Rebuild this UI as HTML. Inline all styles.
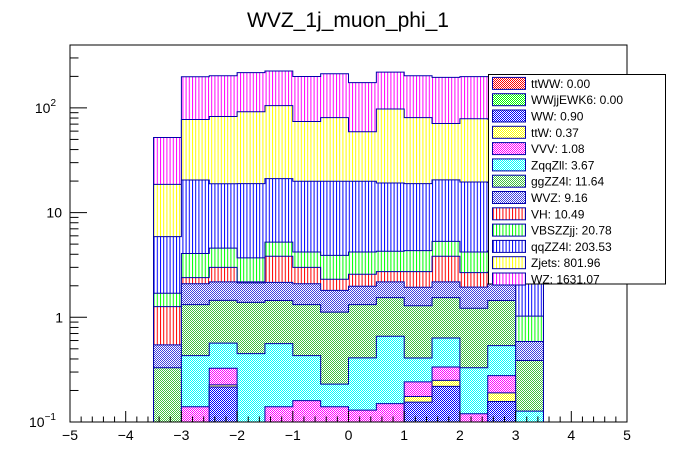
<!DOCTYPE html>
<html><head><meta charset="utf-8"><style>
html,body{margin:0;padding:0;background:#fff;}
svg{display:block;font-family:"Liberation Sans",Arial,sans-serif;}
</style></head><body>
<svg id="chart" width="696" height="472" viewBox="0 0 696 472" xmlns="http://www.w3.org/2000/svg">
<defs>
<clipPath id="frameClip"><rect x="70" y="45" width="557" height="377"/></clipPath>
</defs>
<text x="348" y="27" text-anchor="middle" font-size="21">WVZ_1j_muon_phi_1</text>
<g id="plot" clip-path="url(#frameClip)"></g>
<rect x="70" y="45" width="557" height="377" fill="none" stroke="#000" stroke-width="1"/>
<g id="axes"></g>
<g id="legend"></g>
</svg>
<script>
const binEdgesLo = -3.5, binWidth = 0.5;
const seriesNames = ["ttWW","WWjjEWK6","WW","ttW","VVV","ZqqZll","ggZZ4l","WVZ","VH","VBSZZjj","qqZZ4l","Zjets","WZ"];
const legendValues = ["0.00","0.00","0.90","0.37","1.08","3.67","11.64","9.16","10.49","20.78","203.53","801.96","1631.07"];
const ttWW   = [0,0,0,0,0,0,0,0,0,0,0,0,0,0];
const WWjj   = [0,0,0,0,0,0,0,0,0,0,0,0,0,0];
const WW     = [.02,.03,.216,.02,.04,.05,.04,.04,.04,.155,.219,.04,.157,.02];
const ttW    = [.01,.02,.01,.01,.02,.02,.02,.02,.02,.02,.031,.02,.033,.02];
const VVV    = [.03,.09,.10,.02,.08,.09,.08,.07,.09,.067,.085,.06,.087,.03];
const ZqqZll = [.03,.29,.24,.40,.42,.27,.09,.28,.51,.167,.30,.21,.26,.057];
const ggZZ4l = [.24,.89,.885,.94,.885,.89,.89,.91,.88,.88,.905,.89,.91,.26];
const WVZ    = [.216,.77,.73,.74,.71,.77,.69,.66,.64,.65,.64,.72,.64,.20];
const VH     = [.72,.30,.82,.05,1.67,.91,.50,.60,.55,.79,1.65,.73,.61,0];
const VBSZZjj= [.43,1.68,1.58,1.51,1.40,1.21,1.59,1.63,1.55,1.60,1.48,1.54,1.6,.44];
const qqZZ4l = [4.2,16.4,14.3,15.2,15.9,15.7,16,15.7,14.9,14.6,15.2,15.4,15.1,4.9];
const Zjets  = [12.7,57.1,63.9,73.1,84,54.3,60.9,39.2,78.4,61.9,50.4,59.1,58.6,12.7];
const WZ     = [33.5,121,120,125,120,125,131,115,122,122,125,120,121,33.5];
const xTicks = [-5,-4,-3,-2,-1,0,1,2,3,4,5];
const yTicks = [0.1,1,10,100];

const allSeries = [ttWW,WWjj,WW,ttW,VVV,ZqqZll,ggZZ4l,WVZ,VH,VBSZZjj,qqZZ4l,Zjets,WZ];
const colors = ["#ff0000","#00ff00","#0000ff","#ffff00","#ff00ff","#00ffff","#40c040","#4040e0","#ff0000","#00ff00","#0000ff","#ffff00","#ff00ff"];
const striped = [false,false,false,false,false,false,false,false,true,true,true,true,true];
const NS="http://www.w3.org/2000/svg";
const X0=70,X1=627,YB=422,DEC=104.7;
function xs(v){return X0+(v+5)/10*(X1-X0);}
function ys(v){ if(v<=0.01) return YB+50; return YB-(Math.log10(v)+1)*DEC; }
function el(t,a,p){const e=document.createElementNS(NS,t);for(const k in a)e.setAttribute(k,a[k]);if(p)p.appendChild(e);return e;}

const svg=document.getElementById('chart');
const defs=svg.querySelector('defs');
seriesNames.forEach((n,i)=>{
  let p;
  if(striped[i]){
    p=el('pattern',{id:'pat'+i,patternUnits:'userSpaceOnUse',width:3.2,height:4},defs);
    el('rect',{x:0,y:0,width:3.2,height:4,fill:'#fff'},p);
    el('rect',{x:0,y:0,width:1,height:4,fill:colors[i]},p);
  } else {
    p=el('pattern',{id:'pat'+i,patternUnits:'userSpaceOnUse',width:2,height:2},defs);
    el('rect',{x:0,y:0,width:2,height:2,fill:'#fff'},p);
    el('rect',{x:0,y:0,width:1,height:1,fill:colors[i]},p);
    el('rect',{x:1,y:1,width:1,height:1,fill:colors[i]},p);
  }
});

const nb=WZ.length;
const cum=[];let run=new Array(nb).fill(0);
allSeries.forEach(s=>{run=run.map((r,j)=>r+s[j]);cum.push(run.slice());});
const plot=document.getElementById('plot');
for(let i=allSeries.length-1;i>=0;i--){
  let d='M'+xs(binEdgesLo)+','+(YB+50);
  for(let j=0;j<nb;j++){
    const xl=xs(binEdgesLo+j*binWidth), xr=xs(binEdgesLo+(j+1)*binWidth), y=ys(cum[i][j]);
    d+=' L'+xl+','+y+' L'+xr+','+y;
  }
  d+=' L'+xs(binEdgesLo+nb*binWidth)+','+(YB+50)+' Z';
  const path=el('path',{d:d,fill:'url(#pat'+i+')',stroke:'#0000aa','stroke-width':1},plot);
  
  
}

const ax=document.getElementById('axes');
for(let v=-5;v<=5.001;v+=0.2){
  const r=Math.round(v*10)/10;
  const major=Math.abs(r-Math.round(r))<1e-6, half=Math.abs(Math.abs(r-Math.trunc(r))-0.5)<1e-6;
  const len=major?11:(half?8:5.5);
  el('line',{x1:xs(r),x2:xs(r),y1:YB,y2:YB-len,stroke:'#000','stroke-width':1},ax);
}
xTicks.forEach(t=>{
  const tx=el('text',{x:xs(t),y:440,'text-anchor':'middle','font-size':14},ax);
  tx.textContent=(t<0?'\u2212':'')+Math.abs(t);
  
  
});
for(let e=-1;e<=2;e++){
  for(let m=1;m<=9;m++){
    const v=m*Math.pow(10,e);const y=ys(v);if(y<45)continue;
    el('line',{x1:X0,x2:X0+(m===1?17:8.5),y1:y,y2:y,stroke:'#000','stroke-width':1},ax);
  }
}
const ylab=['10<tspan font-size="10" dy="-7">\u22121</tspan>','1','10','10<tspan font-size="10" dy="-7">2</tspan>'];
yTicks.forEach((t,i)=>{
  const tx=el('text',{x:i===1?63:(i===0||i===3?56:62),y:ys(t)+5,'text-anchor':'end','font-size':14},ax);
  tx.innerHTML=ylab[i];
  
  
});

const lg=document.getElementById('legend');


el('rect',{x:488.5,y:74.5,width:177,height:209.5,fill:'#fff',stroke:'#000','stroke-width':1},lg);
seriesNames.forEach((n,i)=>{
  const cy=83.4+i*16.3;
  const g=el('g',{},lg);
  
  
  el('rect',{x:492.5,y:cy-6,width:33,height:12,fill:'url(#pat'+i+')',stroke:'#0000aa','stroke-width':1},g);
  const t=el('text',{x:531,y:cy+4.5,'font-size':12},g);
  t.textContent=n+': '+legendValues[i];
});
</script>
</body></html>
